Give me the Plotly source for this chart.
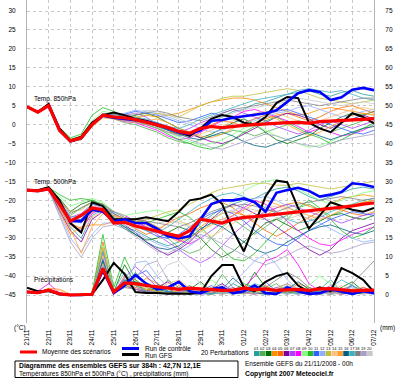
import plotly.graph_objects as go

# ---------------- data ----------------
dates = ["21/11", "22/11", "23/11", "24/11", "25/11", "26/11", "27/11", "28/11", "29/11",
         "30/11", "01/12", "02/12", "03/12", "04/12", "05/12", "06/12", "07/12"]
date_hours = [0, 24, 48, 72, 96, 120, 144, 168, 192, 216, 240, 264, 288, 312, 336, 360, 384]
hours = [0, 12, 24, 36, 48, 60, 72, 84, 96, 108, 120, 132, 144, 156, 168, 180, 192, 204, 216,
         228, 240, 252, 264, 276, 288, 300, 312, 324, 336, 348, 360, 372, 384]

left_ticks = [-45, -40, -35, -30, -25, -20, -15, -10, -5, 0, 5, 10, 15, 20, 25, 30]
right_ticks = [0, 5, 10, 15, 20, 25, 30, 35, 40, 45, 50, 55, 60, 65, 70, 75]

member_colors = ["#2a9d9d", "#50b050", "#007000", "#ff8c00", "#ff6a00", "#7a00a0", "#b040ff",
                 "#ff00ff", "#80ff80", "#20c020", "#3060ff", "#90b0ff", "#c0c040", "#ffc080",
                 "#ffa030", "#006080", "#40b0c0", "#808080", "#a8a0c8", "#c8c8c8"]

t850_mean = [4.7, 3.3, 5.0, -1.5, -4.3, -3.5, 0.0, 2.5, 2.0, 1.8, 1.3,
             0.6, -0.1, -0.8, -1.8, -2.3, -1.0, -0.5, -0.8, -0.4, -0.2, 0.0,
             0.2, 0.5, 0.5, 0.6, 0.4, 0.8, 0.9, 1.0, 1.2, 1.4, 1.6]
t850_control = [4.7, 3.3, 5.0, -1.5, -4.4, -3.6, 0.0, 2.4, 1.8, 1.5, 1.0,
                0.8, 0.0, -1.0, -2.0, -2.5, -1.5, 1.0, 1.2, 1.8, 2.3, 2.6,
                3.0, 3.8, 6.0, 8.3, 9.1, 8.6, 6.5, 7.2, 9.2, 9.7, 9.1]
t850_gfs = [4.7, 3.3, 5.5, -1.0, -4.2, -3.2, 0.5, 2.5, 3.2, 2.5, 1.5,
            1.0, 0.0, -1.0, -2.0, -3.0, -1.0, 1.5, 2.5, 2.0, 0.5, 0.0,
            2.0, 5.7, 7.3, 7.0, 0.5, -1.0, -2.0, 0.5, 3.0, 2.0, 0.3]

t500_mean = [-17.3, -17.5, -17.0, -21.0, -25.5, -24.0, -22.0, -22.5, -26.0, -25.8, -26.8,
             -27.5, -28.2, -29.0, -29.5, -28.0, -25.0, -25.5, -26.0, -25.0, -24.5, -24.3,
             -24.0, -23.5, -23.2, -23.0, -22.8, -22.5, -22.0, -21.8, -21.5, -21.0, -20.7]
t500_control = [-17.3, -17.5, -17.0, -21.0, -25.5, -25.5, -22.5, -23.0, -25.5, -25.0, -26.0,
                -26.0, -27.5, -29.5, -30.0, -29.5, -25.0, -21.0, -20.0, -20.0, -19.5, -20.5,
                -23.0, -18.0, -17.3, -16.7, -17.5, -19.0, -18.5, -17.8, -15.5, -15.8, -16.5]
t500_gfs = [-17.3, -17.3, -16.5, -20.0, -26.0, -28.5, -20.5, -21.5, -25.0, -25.0, -25.0,
            -24.5, -25.0, -25.5, -23.0, -20.0, -19.5, -18.5, -21.0, -28.0, -33.5, -26.0,
            -19.0, -14.8, -15.2, -22.0, -27.5, -24.0, -20.5, -21.5, -22.5, -23.0, -22.0]

precip_mean = [0.8, 0.6, 1.3, 0.3, 0.0, 0.0, 0.2, 7.0, 0.8, 3.2, 3.0,
               2.5, 2.2, 2.0, 1.5, 1.8, 1.6, 1.5, 1.2, 1.3, 1.8, 1.4,
               1.6, 1.2, 1.3, 1.5, 1.2, 1.6, 1.7, 1.3, 1.1, 1.2, 1.3]
precip_control = [0.8, 0.6, 1.3, 0.3, 0.0, 0.0, 0.2, 6.5, 0.5, 2.5, 5.3,
                  3.0, 1.5, 2.0, 3.5, 1.0, 0.5, 1.5, 2.0, 0.5, 1.0, 2.5,
                  0.5, 0.3, 2.0, 1.0, 0.3, 0.5, 1.5, 0.8, 0.3, 1.0, 0.5]
precip_gfs = [1.9, 1.0, 1.0, 0.2, 0.0, 0.0, 0.2, 4.0, 8.5, 5.5, 0.8,
              0.5, 0.5, 0.3, 0.3, 0.3, 0.5, 5.0, 7.9, 7.9, 2.0, 1.0,
              3.5, 5.0, 5.8, 2.5, 0.8, 2.0, 1.0, 7.1, 5.8, 4.0, 0.8]

t850_perturbations = [
    [4.8, 3.4, 5.1, -1.2, -4.0, -3.2, 0.5, 2.8, 2.5, 1.5, 2.0, 1.0, 0.0, -1.5, -3.0, -2.0, -1.0, 0.5, 2.0, 3.5, 4.0, 5.5, 6.0, 7.0, 8.0, 8.5, 9.0, 8.0, 7.5, 8.5, 9.0, 8.0, 7.5],
    [4.6, 3.2, 4.9, -1.8, -4.5, -4.0, -0.5, 2.0, 1.5, 0.5, 0.0, -1.0, -2.0, -3.5, -4.5, -5.0, -4.0, -3.0, -2.5, -1.5, -2.0, -3.0, -2.0, -1.0, 0.0, 1.0, 0.5, -1.0, -2.0, -1.0, 0.0, 1.0, 2.0],
    [4.7, 3.3, 5.0, -1.4, -4.2, -3.6, 0.2, 2.5, 2.0, 1.5, 2.5, 3.0, 2.0, 0.5, -1.0, -2.0, -3.5, -2.5, -1.0, 0.5, 1.5, 0.0, -2.0, -4.0, -5.0, -4.0, -3.0, -1.0, 0.5, 2.0, 3.0, 2.5, 3.5],
    [4.7, 3.4, 5.0, -1.6, -4.4, -3.4, 0.0, 2.2, 1.8, 1.0, 1.5, 2.5, 2.0, 2.5, 3.0, 4.0, 5.0, 6.0, 6.5, 7.0, 7.0, 6.5, 5.5, 4.5, 3.5, 2.5, 3.0, 4.0, 4.5, 4.0, 3.5, 3.0, 2.5],
    [4.7, 3.3, 4.9, -1.5, -4.6, -3.8, -0.2, 2.3, 1.6, 1.2, 0.8, 0.0, -1.0, -2.0, -2.5, -3.0, -1.5, 0.0, 1.0, 0.5, -0.5, 0.5, 1.5, 2.5, 3.0, 2.0, 1.0, 2.0, 3.5, 4.5, 5.0, 4.0, 3.0],
    [4.7, 3.4, 5.0, -1.3, -4.1, -3.3, 0.3, 2.6, 2.2, 1.8, 1.5, 1.0, 0.5, -0.5, -1.5, -2.5, -3.5, -4.5, -5.0, -4.0, -2.5, -1.0, 0.5, 2.0, 3.0, 2.5, 1.5, 0.0, -1.0, 0.5, 1.5, 2.5, 1.5],
    [4.6, 3.3, 4.9, -1.7, -4.3, -3.7, -0.3, 2.1, 1.9, 2.5, 3.0, 2.0, 0.0, -1.0, -2.0, -1.0, 0.5, 1.5, 3.0, 4.0, 3.0, 2.0, 1.0, -0.5, -1.5, -2.5, -1.5, 0.0, 1.0, 0.0, -1.0, 0.0, 1.0],
    [4.7, 3.2, 5.0, -1.6, -4.4, -3.5, 0.1, 2.4, 1.7, 0.8, 0.5, -0.5, -1.5, -3.0, -4.0, -3.5, -2.0, -0.5, 1.0, 2.0, 3.5, 4.0, 3.0, 2.0, 1.0, -0.5, -2.0, -1.0, -2.0, -3.0, -2.5, -1.5, 0.0],
    [4.8, 3.5, 5.1, -1.0, -3.8, -3.0, 1.0, 3.5, 3.0, 2.0, 1.5, 0.5, -0.5, -2.0, -3.5, -4.5, -5.5, -5.0, -4.0, -2.5, -1.0, 0.0, -1.5, -3.0, -4.0, -5.0, -6.0, -5.5, -4.5, -3.0, -2.0, -1.0, 0.0],
    [4.7, 3.4, 5.0, -0.8, -3.5, -2.5, 2.5, 4.5, 3.5, 2.0, 1.0, 0.0, -1.0, -2.5, -4.0, -5.0, -6.0, -6.5, -5.5, -4.0, -2.0, -0.5, 1.0, 2.0, 0.5, -1.0, -2.5, -3.5, -5.0, -4.0, -2.5, -1.0, 0.5],
    [4.6, 3.3, 4.9, -1.5, -4.3, -3.6, 0.0, 2.3, 2.0, 2.8, 3.5, 3.0, 2.5, 1.5, 0.5, 1.0, 2.0, 3.0, 2.5, 1.5, 0.5, 1.5, 2.5, 3.5, 4.0, 3.0, 2.0, 1.0, 0.0, -1.0, -2.0, -2.5, -1.5],
    [4.7, 3.3, 5.0, -1.3, -4.0, -3.4, 0.4, 2.7, 2.6, 3.0, 3.8, 3.5, 3.0, 2.0, 1.0, 0.0, -1.0, -2.0, -1.5, -0.5, 0.5, 1.0, 2.0, 3.0, 3.5, 4.5, 5.0, 4.0, 3.0, 2.0, 2.5, 3.5, 4.0],
    [4.7, 3.4, 5.0, -1.5, -4.2, -3.4, 0.2, 2.5, 2.0, 1.5, 2.0, 2.5, 3.0, 2.5, 2.0, 3.5, 5.0, 6.0, 7.0, 7.5, 7.5, 8.0, 8.5, 9.0, 9.5, 9.0, 8.0, 7.0, 6.5, 6.0, 5.5, 6.0, 6.5],
    [4.7, 3.3, 5.0, -1.6, -4.3, -3.5, 0.0, 2.2, 1.8, 1.2, 1.0, 0.5, 0.0, -1.0, -2.0, -3.0, -2.5, -1.5, -0.5, 1.0, 2.0, 3.0, 3.5, 3.0, 2.0, 1.0, 0.0, 1.0, 2.0, 3.0, 4.0, 4.5, 4.0],
    [4.6, 3.2, 4.9, -1.9, -4.6, -4.0, -0.6, 1.8, 1.5, 1.0, 0.5, 1.0, 1.5, 0.5, -1.0, -2.0, -3.0, -3.5, -2.5, -1.0, 0.5, 1.5, 2.5, 1.5, 0.0, -1.5, -3.0, -2.0, -0.5, 1.0, 2.5, 3.0, 2.5],
    [4.7, 3.4, 5.0, -1.4, -4.1, -3.3, 0.3, 2.6, 2.3, 1.8, 1.3, 0.5, -0.5, -1.5, -2.5, -3.5, -4.0, -3.0, -2.0, -3.0, -4.5, -5.5, -6.0, -5.0, -4.0, -3.0, -2.0, -3.0, -4.0, -3.0, -2.0, -1.0, -0.5],
    [4.7, 3.3, 5.0, -1.5, -4.3, -3.5, 0.1, 2.4, 2.0, 1.6, 1.8, 1.5, 0.5, -0.5, -1.0, 0.0, 1.5, 2.5, 3.5, 4.5, 5.5, 6.5, 7.0, 7.5, 8.0, 9.0, 9.5, 9.0, 8.5, 9.0, 8.0, 7.0, 6.5],
    [4.8, 3.5, 5.1, -1.2, -4.0, -3.2, 0.6, 2.9, 2.7, 2.2, 2.6, 3.2, 3.6, 3.0, 2.0, 1.5, 1.0, 2.0, 3.0, 4.0, 4.5, 5.0, 5.5, 6.0, 6.5, 6.0, 5.5, 5.0, 5.5, 6.0, 6.5, 7.0, 7.0],
    [4.6, 3.2, 4.9, -1.7, -4.4, -3.7, -0.2, 2.1, 1.7, 1.0, 0.6, 0.0, -1.0, -2.0, -3.0, -4.0, -5.0, -6.0, -6.5, -5.5, -4.5, -3.5, -2.5, -3.0, -4.0, -5.0, -5.5, -6.0, -5.0, -4.0, -3.5, -3.0, -2.5],
    [4.7, 3.4, 5.0, -1.3, -4.0, -3.3, 0.4, 2.6, 2.3, 2.0, 3.0, 3.8, 3.5, 2.5, 1.5, 0.5, 0.0, 1.0, 2.0, 3.0, 4.0, 4.5, 5.0, 5.5, 6.0, 7.0, 6.5, 6.0, 5.5, 5.0, 5.5, 6.0, 5.5],
]

t500_perturbations = [
    [-17.2, -17.3, -17.0, -22.0, -27.0, -30.0, -24.0, -22.5, -25.0, -27.0, -28.0, -29.5, -31.0, -32.0, -31.0, -29.0, -26.0, -24.0, -22.0, -21.0, -20.0, -19.5, -18.0, -17.0, -16.5, -17.5, -19.0, -20.0, -19.0, -18.0, -17.0, -16.5, -17.0],
    [-17.4, -17.5, -17.2, -20.5, -24.0, -22.0, -20.5, -21.0, -24.5, -26.0, -25.0, -26.0, -28.0, -30.0, -32.5, -34.0, -33.0, -30.0, -27.0, -25.0, -27.0, -29.0, -27.0, -25.0, -24.0, -22.0, -21.0, -22.5, -24.0, -23.0, -21.5, -20.5, -20.0],
    [-17.3, -17.4, -16.8, -19.5, -23.0, -21.0, -20.0, -21.5, -25.5, -27.5, -29.0, -30.5, -30.0, -28.5, -27.0, -28.0, -30.0, -33.0, -35.0, -33.5, -31.0, -28.5, -26.0, -25.0, -26.5, -28.0, -27.0, -25.5, -24.0, -23.5, -24.5, -25.0, -24.0],
    [-17.3, -17.3, -17.1, -23.0, -29.0, -27.0, -26.5, -26.5, -25.5, -25.5, -25.0, -25.5, -27.0, -29.0, -30.5, -29.0, -27.0, -25.0, -23.5, -23.0, -24.0, -25.5, -24.0, -22.0, -21.0, -20.5, -21.5, -22.5, -21.0, -19.5, -19.0, -18.5, -19.0],
    [-17.2, -17.4, -17.0, -21.0, -26.0, -27.5, -23.0, -22.0, -24.0, -25.5, -27.5, -29.0, -28.0, -26.0, -24.5, -23.5, -22.0, -21.0, -20.5, -22.0, -24.0, -26.0, -28.0, -29.5, -28.0, -26.0, -24.5, -23.0, -22.0, -22.5, -23.5, -24.0, -23.0],
    [-17.3, -17.5, -17.2, -22.5, -28.0, -31.0, -25.0, -23.0, -24.5, -26.5, -28.5, -31.0, -33.0, -34.5, -33.0, -31.0, -28.0, -25.0, -22.5, -21.0, -22.0, -23.5, -25.0, -27.0, -29.0, -31.0, -33.0, -34.5, -33.0, -30.0, -28.0, -27.0, -26.0],
    [-17.4, -17.4, -17.1, -20.0, -24.5, -23.5, -21.0, -22.0, -24.0, -25.0, -26.0, -27.0, -29.0, -31.0, -33.0, -35.0, -36.5, -35.0, -32.0, -29.0, -26.5, -24.5, -23.0, -22.0, -21.0, -22.0, -23.0, -24.0, -25.0, -26.0, -25.0, -24.0, -23.5],
    [-17.3, -17.3, -16.9, -21.5, -26.5, -28.0, -23.5, -22.0, -23.0, -24.0, -25.5, -27.0, -28.5, -29.5, -30.5, -31.5, -30.0, -28.0, -26.0, -24.0, -22.0, -20.0, -21.0, -23.0, -25.5, -28.0, -30.0, -31.5, -32.0, -30.5, -29.0, -28.0, -27.0],
    [-17.2, -17.2, -16.7, -19.0, -21.5, -20.5, -19.5, -20.5, -23.0, -24.0, -23.5, -23.0, -22.5, -23.5, -25.0, -27.0, -28.5, -26.0, -23.0, -20.0, -17.5, -16.0, -15.0, -14.5, -15.5, -17.0, -18.5, -20.0, -21.0, -20.0, -19.0, -18.0, -17.5],
    [-17.3, -17.2, -16.6, -18.5, -20.0, -19.5, -20.0, -21.0, -23.5, -25.0, -25.5, -26.0, -25.0, -24.0, -23.0, -24.5, -27.0, -30.0, -33.0, -35.5, -36.0, -34.0, -31.0, -28.0, -25.0, -22.0, -20.0, -22.0, -25.0, -28.0, -30.0, -29.0, -27.0],
    [-17.3, -17.4, -17.0, -20.5, -25.0, -26.0, -22.5, -22.0, -23.5, -25.0, -26.5, -28.0, -29.5, -30.0, -29.0, -27.0, -25.0, -23.5, -22.5, -23.5, -25.5, -28.0, -30.0, -31.5, -32.0, -30.0, -28.0, -26.5, -25.0, -24.0, -23.0, -23.5, -24.0],
    [-17.4, -17.5, -17.3, -23.5, -30.0, -33.5, -29.0, -26.0, -26.0, -27.0, -28.5, -30.0, -31.5, -32.5, -33.5, -32.0, -30.0, -28.0, -25.5, -23.0, -21.0, -19.5, -19.0, -20.0, -21.5, -23.5, -25.0, -26.0, -27.5, -29.0, -30.0, -31.0, -30.5],
    [-17.2, -17.3, -16.8, -20.0, -23.0, -22.5, -20.5, -21.5, -24.0, -25.5, -26.0, -25.0, -24.0, -23.0, -22.5, -21.0, -19.5, -18.0, -17.0, -16.5, -16.0, -15.5, -15.5, -16.0, -16.0, -15.5, -16.0, -16.5, -17.0, -16.5, -16.0, -15.5, -15.0],
    [-17.3, -17.4, -17.1, -21.5, -26.5, -28.5, -24.5, -23.0, -24.0, -25.0, -26.5, -28.0, -27.5, -26.0, -25.5, -26.5, -28.0, -29.5, -28.0, -26.0, -24.5, -23.0, -22.0, -21.5, -22.5, -24.0, -25.0, -24.0, -22.5, -21.5, -21.0, -20.5, -20.0],
    [-17.3, -17.3, -17.0, -22.0, -27.5, -34.0, -27.0, -23.5, -24.0, -24.5, -25.5, -26.5, -28.0, -29.5, -31.0, -30.0, -28.0, -26.5, -25.0, -24.0, -22.5, -21.0, -20.0, -21.0, -22.0, -23.0, -24.0, -25.0, -24.0, -22.5, -21.5, -20.5, -20.0],
    [-17.4, -17.5, -17.2, -21.0, -25.5, -25.0, -22.0, -22.5, -25.0, -27.0, -29.0, -31.0, -32.5, -33.0, -32.0, -30.0, -27.5, -26.0, -27.0, -29.0, -31.0, -33.0, -34.0, -33.0, -31.0, -29.5, -28.0, -27.0, -26.5, -27.5, -28.5, -29.0, -28.0],
    [-17.3, -17.4, -17.0, -20.5, -24.5, -24.0, -21.0, -21.5, -24.5, -26.0, -27.0, -28.0, -28.5, -27.0, -25.0, -23.0, -21.0, -19.5, -18.5, -18.0, -19.0, -20.5, -22.0, -23.5, -25.0, -26.0, -25.5, -24.5, -23.0, -22.0, -21.0, -20.0, -19.5],
    [-17.2, -17.3, -16.9, -20.0, -23.5, -22.0, -20.5, -21.0, -23.0, -24.5, -25.0, -25.5, -26.0, -26.5, -27.0, -26.0, -24.5, -23.0, -22.0, -21.5, -21.0, -21.5, -22.5, -23.0, -22.0, -21.0, -20.5, -20.0, -19.5, -19.0, -19.5, -20.0, -19.5],
    [-17.4, -17.5, -17.3, -24.0, -31.0, -35.0, -30.0, -27.0, -26.5, -27.5, -29.5, -31.5, -33.5, -34.0, -32.5, -30.5, -29.0, -30.0, -31.5, -33.0, -34.5, -36.0, -37.0, -36.0, -34.5, -33.0, -32.0, -33.0, -34.0, -33.5, -32.5, -31.5, -31.0],
    [-17.3, -17.4, -17.1, -21.0, -25.0, -24.5, -21.5, -22.0, -24.5, -26.5, -27.5, -27.0, -26.0, -25.5, -26.0, -27.0, -26.0, -24.5, -23.5, -22.5, -22.0, -22.5, -23.5, -24.5, -25.0, -24.0, -23.0, -22.5, -22.0, -21.5, -21.5, -21.0, -20.5],
]

precip_perturbations = [
    [0.8, 0.5, 1.2, 0.2, 0.0, 0.0, 0.3, 9.0, 1.0, 4.0, 2.5, 1.5, 0.5, 0.3, 1.0, 2.5, 0.5, 0.2, 0.8, 3.0, 1.5, 0.5, 0.2, 1.0, 2.5, 0.5, 0.3, 1.5, 4.0, 1.0, 0.3, 0.8, 0.5],
    [0.9, 0.6, 1.5, 0.3, 0.0, 0.0, 0.1, 12.0, 0.5, 2.0, 6.0, 3.0, 1.0, 4.0, 2.0, 0.5, 0.3, 1.0, 5.5, 2.0, 0.5, 0.3, 1.5, 3.0, 0.8, 0.3, 2.0, 1.0, 0.3, 0.5, 2.5, 1.0, 0.5],
    [0.7, 0.5, 1.0, 0.2, 0.0, 0.0, 0.2, 6.0, 0.8, 8.0, 3.0, 1.0, 2.5, 1.0, 0.5, 1.5, 3.5, 1.0, 0.3, 0.5, 1.0, 6.0, 2.0, 0.5, 0.3, 1.5, 0.8, 0.3, 0.5, 2.0, 3.5, 1.0, 0.3],
    [0.8, 0.7, 1.8, 1.5, 0.2, 0.0, 0.1, 10.0, 1.5, 3.0, 2.0, 4.5, 3.0, 1.5, 0.5, 0.3, 1.0, 2.0, 0.5, 0.3, 2.5, 1.5, 0.5, 0.3, 1.0, 3.0, 2.0, 0.5, 0.3, 1.0, 0.5, 0.3, 0.8],
    [0.8, 0.5, 1.3, 0.2, 0.0, 0.0, 0.2, 14.0, 0.5, 5.0, 4.0, 2.0, 1.0, 0.5, 2.5, 1.0, 0.3, 0.5, 1.5, 0.8, 0.3, 1.0, 2.5, 1.0, 0.5, 0.3, 1.5, 2.0, 0.5, 0.3, 1.0, 1.5, 0.5],
    [0.8, 0.6, 1.4, 0.3, 0.0, 0.0, 0.3, 8.0, 0.6, 2.5, 1.5, 0.8, 2.0, 3.5, 1.0, 0.3, 0.5, 1.5, 3.0, 1.0, 0.5, 0.3, 0.8, 2.0, 1.0, 0.5, 0.3, 0.5, 1.0, 0.3, 0.5, 2.0, 1.0],
    [0.9, 0.6, 1.5, 0.2, 0.0, 0.0, 0.2, 11.0, 0.8, 4.5, 7.5, 5.0, 2.0, 0.8, 0.5, 1.0, 0.3, 0.3, 1.0, 2.0, 0.5, 0.3, 0.5, 1.5, 0.5, 0.3, 0.5, 1.0, 2.5, 1.5, 0.5, 0.3, 0.5],
    [0.9, 1.0, 3.0, 0.5, 0.0, 0.0, 0.2, 7.5, 0.5, 3.0, 2.0, 1.0, 0.5, 0.3, 0.8, 2.0, 1.0, 0.5, 0.3, 1.0, 2.0, 5.0, 9.0, 10.0, 12.0, 8.0, 3.0, 1.0, 0.5, 0.3, 0.5, 1.0, 0.5],
    [0.8, 0.5, 1.2, 0.2, 0.0, 0.0, 0.4, 13.0, 1.0, 2.0, 3.5, 2.5, 1.5, 1.0, 0.5, 0.3, 2.0, 4.0, 2.0, 0.5, 0.3, 0.8, 1.0, 0.5, 0.3, 0.8, 2.5, 5.0, 3.0, 1.0, 0.5, 0.3, 0.5],
    [0.8, 0.6, 1.3, 0.3, 0.0, 0.0, 0.5, 16.0, 2.0, 10.0, 4.0, 2.0, 1.0, 0.5, 0.3, 1.0, 0.5, 0.3, 0.5, 1.0, 3.0, 2.0, 0.5, 0.3, 1.0, 0.5, 0.3, 0.8, 1.5, 0.5, 0.3, 0.5, 0.8],
    [0.8, 0.5, 1.2, 0.2, 0.0, 0.0, 0.2, 9.5, 0.7, 3.5, 5.0, 6.5, 3.0, 1.0, 0.5, 0.3, 1.0, 2.5, 0.8, 0.3, 0.5, 1.5, 3.5, 1.0, 0.3, 0.5, 1.0, 0.5, 0.3, 1.5, 2.5, 0.8, 0.3],
    [0.8, 0.6, 1.3, 0.2, 0.0, 0.0, 0.3, 7.0, 0.5, 2.0, 8.5, 9.0, 5.0, 2.0, 1.0, 0.5, 0.3, 0.5, 1.0, 3.0, 6.0, 9.0, 11.0, 8.0, 4.0, 1.5, 0.5, 0.3, 0.5, 1.0, 2.0, 1.0, 0.5],
    [0.8, 0.5, 1.2, 0.2, 0.0, 0.0, 0.2, 8.5, 0.6, 2.5, 2.0, 1.5, 1.0, 0.5, 0.3, 0.8, 1.5, 0.5, 0.3, 1.0, 2.0, 1.0, 0.5, 0.3, 0.8, 1.5, 1.0, 0.5, 0.3, 0.5, 1.0, 0.5, 0.3],
    [0.8, 0.7, 1.6, 1.2, 0.3, 0.0, 0.2, 10.5, 0.8, 3.0, 2.5, 2.0, 1.5, 3.0, 4.0, 2.0, 0.5, 0.3, 0.5, 1.0, 0.8, 0.5, 0.3, 0.8, 2.0, 1.0, 0.5, 0.3, 1.0, 2.5, 1.0, 0.5, 0.3],
    [0.8, 0.6, 1.4, 0.3, 0.0, 0.0, 0.1, 12.5, 0.6, 2.5, 3.0, 1.5, 0.8, 0.5, 1.0, 0.5, 0.3, 1.0, 2.0, 1.0, 0.5, 0.3, 0.5, 1.5, 3.0, 1.0, 0.5, 0.3, 0.5, 0.8, 1.5, 2.0, 1.0],
    [0.8, 0.5, 1.2, 0.2, 0.0, 0.0, 0.2, 9.0, 0.5, 4.0, 3.5, 2.5, 1.5, 0.8, 0.5, 0.3, 0.5, 0.3, 1.5, 4.5, 2.0, 0.5, 0.3, 0.5, 1.5, 3.5, 1.5, 0.5, 0.3, 0.5, 0.3, 0.5, 0.8],
    [0.8, 0.6, 1.3, 0.3, 0.0, 0.0, 0.3, 11.5, 1.2, 6.0, 2.5, 1.0, 0.5, 0.8, 2.0, 1.0, 0.5, 0.3, 0.5, 0.8, 1.5, 3.0, 2.0, 0.8, 0.5, 0.3, 0.5, 1.0, 2.0, 4.0, 2.5, 1.0, 0.5],
    [0.8, 0.5, 1.2, 0.2, 0.0, 0.0, 0.2, 7.5, 0.5, 2.0, 1.5, 1.0, 0.8, 0.5, 0.3, 0.5, 0.8, 1.0, 0.5, 0.3, 0.5, 1.0, 2.0, 4.0, 6.0, 4.5, 2.0, 1.0, 0.5, 0.3, 3.0, 6.0, 9.0],
    [0.8, 0.6, 1.3, 0.2, 0.0, 0.0, 0.2, 6.5, 0.5, 3.0, 4.5, 8.0, 9.0, 4.0, 1.0, 0.5, 0.3, 1.0, 2.5, 1.5, 0.5, 0.3, 1.0, 2.0, 3.0, 1.5, 0.5, 0.3, 0.5, 1.0, 1.5, 0.5, 0.3],
    [0.8, 0.5, 1.2, 0.2, 0.0, 0.0, 0.2, 8.0, 0.7, 2.5, 3.0, 2.0, 5.0, 8.0, 9.0, 6.0, 3.0, 1.0, 0.5, 0.3, 0.8, 1.5, 1.0, 0.5, 0.3, 0.5, 0.8, 0.5, 0.3, 0.5, 1.0, 0.5, 0.3],
]

# ---------------- figure ----------------
FONT = "Liberation Sans"
PL, PR, PT, PB = 27, 374, 0, 323   # plot area in pixels


def px(x):
    return (x - PL) / (PR - PL)


def py(y):
    return (PB - y) / (PB - PT)


fig = go.Figure()

for i in range(20):
    c = member_colors[i]
    fig.add_trace(go.Scatter(x=hours, y=t850_perturbations[i], mode="lines",
                             line=dict(color=c, width=0.8), hoverinfo="skip"))
    fig.add_trace(go.Scatter(x=hours, y=t500_perturbations[i], mode="lines",
                             line=dict(color=c, width=0.8), hoverinfo="skip"))
    fig.add_trace(go.Scatter(x=hours, y=precip_perturbations[i], mode="lines", yaxis="y2",
                             line=dict(color=c, width=0.8), hoverinfo="skip"))

main = [("#000000", 2.0, t850_gfs, t500_gfs, precip_gfs),
        ("#0000ff", 2.6, t850_control, t500_control, precip_control),
        ("#ff0000", 3.2, t850_mean, t500_mean, precip_mean)]
for col, w, a, b, p in main:
    fig.add_trace(go.Scatter(x=hours, y=a, mode="lines", line=dict(color=col, width=w)))
    fig.add_trace(go.Scatter(x=hours, y=b, mode="lines", line=dict(color=col, width=w)))
    fig.add_trace(go.Scatter(x=hours, y=p, mode="lines", yaxis="y2", line=dict(color=col, width=w)))

ymin = -45 - (PB - 295) / 3.787
ymax = 30 + (11 - PT) / 3.787

fig.update_layout(
    width=400, height=378,
    margin=dict(l=PL, r=400 - PR, t=PT, b=378 - PB, pad=0),
    paper_bgcolor="white", plot_bgcolor="white", showlegend=False,
    font=dict(family=FONT, size=7, color="#000000"),
    xaxis=dict(range=[0, 384], tickvals=date_hours, ticktext=dates, tickangle=-90,
               showgrid=True, gridcolor="#c8c8c8", griddash="dot", gridwidth=1,
               zeroline=False, showline=False, ticks="outside", ticklen=3,
               tickcolor="rgba(0,0,0,0)", tickfont=dict(size=6.5, family=FONT)),
    yaxis=dict(range=[ymin, ymax], tickvals=left_ticks, showgrid=True, gridcolor="#c8c8c8",
               griddash="dot", zeroline=False, showline=True, linecolor="#b4b4b4",
               ticks="outside", ticklen=9, tickcolor="rgba(0,0,0,0)",
               tickfont=dict(size=6.5, family=FONT)),
    yaxis2=dict(range=[ymin + 45, ymax + 45], tickvals=right_ticks, overlaying="y", side="right",
                showgrid=False, zeroline=False, showline=True, linecolor="#b4b4b4",
                ticks="outside", ticklen=9, tickcolor="rgba(0,0,0,0)",
                tickfont=dict(size=6.5, family=FONT)),
)

anns = []


def add_text(t, x, y, size=6.5, anchor="left", bold=False):
    anns.append(dict(text=("<b>%s</b>" % t) if bold else t, x=px(x), y=py(y), xref="paper",
                     yref="paper", xanchor=anchor, yanchor="middle", showarrow=False,
                     font=dict(size=size, family=FONT, color="#000000")))


add_text("Temp. 850hPa", 32, 99)
add_text("Temp. 500hPa", 32, 182)
add_text("Précipitations", 32, 280)
add_text("(°C)", 12, 328)
add_text("(mm)", 378, 328)
add_text("Moyenne des scénarios", 40, 352)
add_text("Run de contrôle", 143, 348.5)
add_text("Run GFS", 143, 355)
add_text("20 Perturbations", 199, 352)
add_text("Diagramme des ensembles GEFS sur 384h : 42,7N 12,1E", 17, 365.5, size=6.8, bold=True)
add_text("Températures 850hPa et 500hPa (°C) , précipitations (mm)", 17, 373.5)
add_text("Ensemble GEFS du 21/11/2008 - 00h", 243, 363)
add_text("Copyright 2007 Meteociel.fr", 243, 373.5, size=6.8, bold=True)

shapes = []


def add_line(x0, x1, y, color, w):
    shapes.append(dict(type="line", xref="paper", yref="paper", x0=px(x0), x1=px(x1),
                       y0=py(y), y1=py(y), line=dict(color=color, width=w)))


add_line(20, 37, 352, "#ff0000", 3)
add_line(122, 139, 348.5, "#0000ff", 3)
add_line(122, 139, 354.5, "#000000", 3)

for i in range(20):
    x0 = 254 + i * 5.95
    shapes.append(dict(type="rect", xref="paper", yref="paper", x0=px(x0), x1=px(x0 + 5.6),
                       y0=py(356), y1=py(351), line=dict(width=0), fillcolor=member_colors[i]))
    anns.append(dict(text="%02d" % (i + 1), x=px(x0 + 2.8), y=py(348), xref="paper", yref="paper",
                     xanchor="center", yanchor="middle", showarrow=False,
                     font=dict(size=4, family=FONT, color="#000000")))

shapes.append(dict(type="rect", xref="paper", yref="paper", x0=px(15), x1=px(238),
                   y0=py(361), y1=py(377.5), line=dict(color="#000000", width=1),
                   fillcolor="rgba(0,0,0,0)"))

fig.update_layout(annotations=anns, shapes=shapes)

fig.write_html("out.html", config={"displayModeBar": False},
               post_script="document.body.style.margin='0';document.body.style.padding='0';document.body.style.overflow='hidden';")
